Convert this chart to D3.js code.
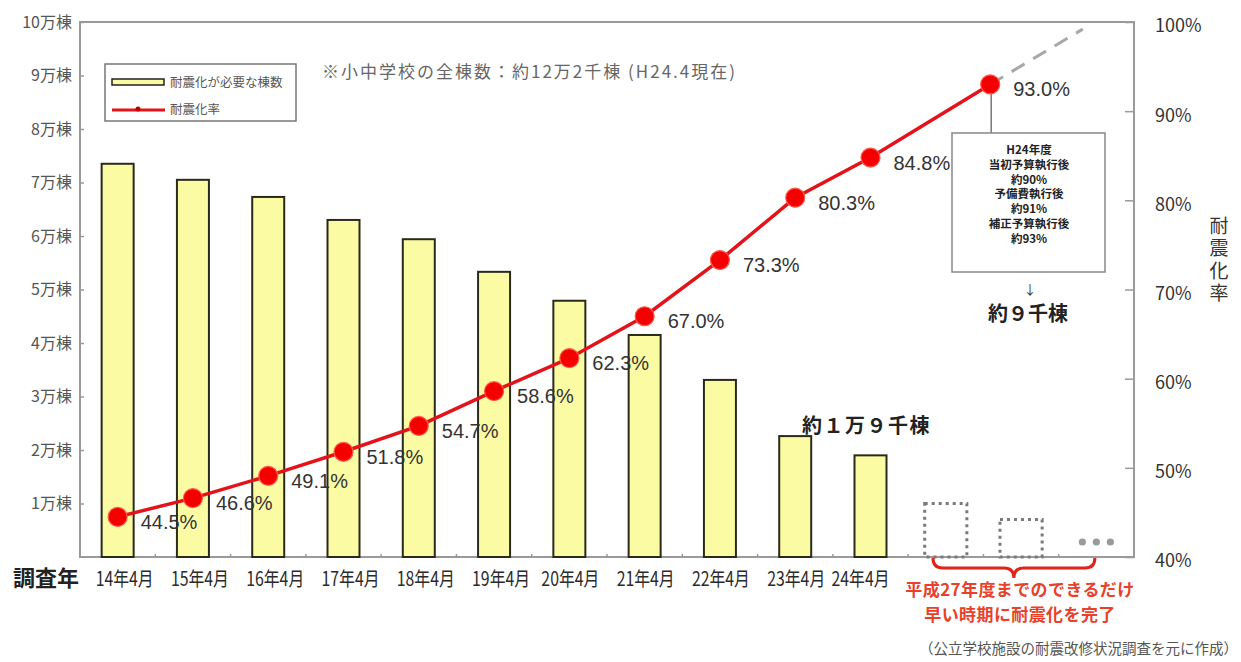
<!DOCTYPE html>
<html lang="ja">
<head>
<meta charset="utf-8">
<script src="https://cdn.jsdelivr.net/npm/d3@7/dist/d3.min.js"></script>
<style>
  html, body { margin: 0; padding: 0; background: #fff; }
  svg { display: block; }
  text { font-family: "Noto Sans CJK JP", "Noto Sans", sans-serif; }
  .num { font-family: "Liberation Sans", Arial, sans-serif; }
</style>
</head>
<body>
<svg id="chart" width="1241" height="662"></svg>
<script>
// Survey points (April of each Heisei year)
const surveyYears = ["14年4月", "15年4月", "16年4月", "17年4月", "18年4月", "19年4月",
                     "20年4月", "21年4月", "22年4月", "23年4月", "24年4月"];
// Buildings still needing seismic retrofit (棟)
const buildingsNeeded = [73500, 70500, 67300, 63000, 59400, 53300, 47900, 41500, 33100, 22600, 19000];
// Seismic retrofit rate (%)
const seismicRate = [44.5, 46.6, 49.1, 51.8, 54.7, 58.6, 62.3, 67.0, 73.3, 80.3, 84.8];
// Future slots drawn as dotted outlines, then the trailing "..." slot
const futureSlots = ["H25", "H26", "H27"];
const futureBuildings = [10000, 7000];
// Rate after FY2012 budget execution, and the dashed projection toward 100%
const budgetRatePos = [11.59];
const budgetRate = [93.0];
const projectionPos = [11.59, 12.82];
const projectionRate = [93.0, 99.2];
// Axis ticks
const countTicks = [10000, 20000, 30000, 40000, 50000, 60000, 70000, 80000, 90000, 100000];
const countTickLabels = ["1万棟", "2万棟", "3万棟", "4万棟", "5万棟", "6万棟", "7万棟", "8万棟", "9万棟", "10万棟"];
const rateTicks = [40, 50, 60, 70, 80, 90, 100];
const budgetNoteLines = ["H24年度", "当初予算執行後", "約90%", "予備費執行後", "約91%", "補正予算執行後", "約93%"];
const bracketNoteLines = ["平成27年度までのできるだけ", "早い時期に耐震化を完了"];

const svg = d3.select("#chart");
const plotLeft = 80, plotRight = 1134, plotTop = 22, plotBottom = 557;

const slots = surveyYears.concat(futureSlots);
const x = d3.scaleBand().domain(slots).range([plotLeft, plotRight]).paddingInner(0.575).paddingOuter(0.2875);
const step = x.step();
// continuous slot position (slot centre = index)
const xPos = d3.scaleLinear().domain([-0.5, slots.length - 0.5]).range([plotLeft, plotRight]);
const yCount = d3.scaleLinear().domain([0, 100000]).range([plotBottom, plotTop]);
const yRate = d3.scaleLinear().domain([40, 100]).range([plotBottom, plotTop]);

// plot frame
svg.append("rect").attr("x", plotLeft).attr("y", plotTop)
  .attr("width", plotRight - plotLeft).attr("height", plotBottom - plotTop)
  .attr("fill", "none").attr("stroke", "#9a9a9a").attr("stroke-width", 2);

// bars
svg.append("g").selectAll("rect").data(buildingsNeeded).join("rect")
  .attr("x", (d, i) => x(surveyYears[i]))
  .attr("y", d => yCount(d))
  .attr("width", x.bandwidth())
  .attr("height", d => yCount(0) - yCount(d))
  .attr("fill", "#fbfba4").attr("stroke", "#2a2a1a").attr("stroke-width", 2);

// dotted future bars
const dotW = step * 0.56;
svg.append("g").selectAll("rect").data(futureBuildings).join("rect")
  .attr("x", (d, i) => xPos(surveyYears.length + i) - dotW / 2)
  .attr("y", d => yCount(d))
  .attr("width", dotW)
  .attr("height", d => yCount(0) - yCount(d))
  .attr("fill", "none").attr("stroke", "#7a7a7a").attr("stroke-width", 3)
  .attr("stroke-dasharray", "3 4");

// trailing "..."
const lastSlot = slots.length - 1;
svg.append("g").selectAll("circle").data([-1, 0, 1]).join("circle")
  .attr("cx", d => xPos(lastSlot) + d * 14)
  .attr("cy", yCount(2800))
  .attr("r", 3.6).attr("fill", "#9a9a9a");

// bottom axis small ticks at slot boundaries
svg.append("g").selectAll("line").data(d3.range(1, slots.length)).join("line")
  .attr("x1", d => xPos(d - 0.5)).attr("x2", d => xPos(d - 0.5))
  .attr("y1", plotBottom).attr("y2", plotBottom - 3)
  .attr("stroke", "#9a9a9a").attr("stroke-width", 1.5);

// left axis
const axL = svg.append("g").attr("transform", `translate(${plotLeft},0)`)
  .call(d3.axisLeft(yCount).tickValues(countTicks).tickSize(-4).tickPadding(8)
    .tickFormat((d, i) => countTickLabels[i]));
axL.select(".domain").remove();
axL.selectAll("line").attr("stroke", "#9a9a9a").attr("stroke-width", 1.5);
axL.selectAll("text").attr("font-size", 16).attr("fill", "#555")
  .attr("font-family", "'Noto Sans CJK JP', sans-serif");

// right axis
const axR = svg.append("g").attr("transform", `translate(${plotRight},0)`)
  .call(d3.axisRight(yRate).tickValues(rateTicks).tickSize(-9).tickPadding(21)
    .tickFormat(d => d + "%"));
axR.select(".domain").remove();
axR.selectAll("line").attr("stroke", "#9a9a9a").attr("stroke-width", 1.5);
axR.selectAll("text").attr("font-size", 18).attr("fill", "#333").attr("dy", "0.55em")
  .attr("font-family", "'Liberation Sans', Arial, sans-serif");

// right axis title, set vertically
svg.append("text")
  .attr("x", 1219).attr("y", 216)
  .attr("font-size", 19).attr("fill", "#333")
  .attr("letter-spacing", 3.5)
  .style("writing-mode", "vertical-rl").style("text-orientation", "upright")
  .text("耐震化率");

// category labels: the earlier ones sit a little right of their bars,
// the last one is pulled left so it clears the red note
const labelNudge = i => (i < 6 ? 7 : i < surveyYears.length - 1 ? 1 : -10);
svg.append("g").selectAll("text").data(surveyYears).join("text")
  .attr("transform", (d, i) => `translate(${x(d) + x.bandwidth() / 2 + labelNudge(i)},586) scale(0.88,1.1)`)
  .attr("text-anchor", "middle").attr("font-size", 18).attr("fill", "#2a2a2a")
  .text(d => d);
svg.append("text").attr("x", 46).attr("y", 586).attr("text-anchor", "middle")
  .attr("font-size", 22).attr("font-weight", "bold").attr("fill", "#222").text("調査年");

// projection dashed line
const lineGen = d3.line().x(d => xPos(d[0])).y(d => yRate(d[1]));
svg.append("path").datum(d3.zip(projectionPos, projectionRate))
  .attr("d", lineGen).attr("fill", "none")
  .attr("stroke", "#a8a8a8").attr("stroke-width", 3).attr("stroke-dasharray", "15 10");

// connector from the FY2012 point to its note box
const bpX = xPos(budgetRatePos[0]);
svg.append("line").attr("x1", bpX + 1).attr("x2", bpX + 1)
  .attr("y1", yRate(budgetRate[0])).attr("y2", 133)
  .attr("stroke", "#777").attr("stroke-width", 1.5);

// rate line
const ratePts = seismicRate.map((v, i) => [i, v]).concat([[budgetRatePos[0], budgetRate[0]]]);
svg.append("path").datum(ratePts).attr("d", lineGen).attr("fill", "none")
  .attr("stroke", "#e3121b").attr("stroke-width", 3.5);
svg.append("g").selectAll("circle").data(ratePts).join("circle")
  .attr("cx", d => xPos(d[0])).attr("cy", d => yRate(d[1]))
  .attr("r", 9.5).attr("fill", "#f40000").attr("stroke", "#ff5a4a").attr("stroke-width", 1.2);

// rate labels
svg.append("g").selectAll("text").data(ratePts).join("text").attr("class", "num")
  .attr("x", d => xPos(d[0]) + 23).attr("y", d => yRate(d[1]) + 12)
  .attr("font-size", 20).attr("fill", "#333")
  .text(d => d[1].toFixed(1) + "%");

// legend
const lg = svg.append("g");
lg.append("rect").attr("x", 105).attr("y", 64).attr("width", 191).attr("height", 57)
  .attr("fill", "#fff").attr("stroke", "#777").attr("stroke-width", 1.5);
lg.append("rect").attr("x", 112).attr("y", 79).attr("width", 52).attr("height", 6)
  .attr("fill", "#fbfba4").attr("stroke", "#222").attr("stroke-width", 1.5);
lg.append("line").attr("x1", 112).attr("x2", 165).attr("y1", 110).attr("y2", 110)
  .attr("stroke", "#e3121b").attr("stroke-width", 3);
lg.append("circle").attr("cx", 138).attr("cy", 109).attr("r", 2.5).attr("fill", "#b00");
lg.append("text").attr("x", 170).attr("y", 87).attr("font-size", 12.5).attr("fill", "#555").text("耐震化が必要な棟数");
lg.append("text").attr("x", 170).attr("y", 114).attr("font-size", 12.5).attr("fill", "#555").text("耐震化率");

// total building count note
svg.append("text").attr("x", 322).attr("y", 78).attr("font-size", 17).attr("fill", "#666")
  .attr("letter-spacing", 2).text("※小中学校の全棟数：約12万2千棟 (H24.4現在)");

// FY2012 note box
const nb = svg.append("g");
nb.append("rect").attr("x", 952).attr("y", 133).attr("width", 153).attr("height", 139)
  .attr("fill", "#fff").attr("stroke", "#888").attr("stroke-width", 1.5);
nb.selectAll("text").data(budgetNoteLines).join("text")
  .attr("x", 1029).attr("y", (d, i) => 154 + i * 14.8).attr("text-anchor", "middle")
  .attr("font-size", 11.5).attr("font-weight", "bold").attr("fill", "#222").text(d => d);
svg.append("text").attr("x", 1030).attr("y", 294).attr("text-anchor", "middle")
  .attr("font-size", 13).attr("fill", "#333").text("↓");
svg.append("text").attr("x", 1028).attr("y", 321).attr("text-anchor", "middle")
  .attr("font-size", 20).attr("font-weight", "bold").attr("fill", "#222").text("約９千棟");

// remaining-building callout
svg.append("text").attr("x", 802).attr("y", 433).attr("font-size", 20).attr("font-weight", "bold")
  .attr("fill", "#222").attr("letter-spacing", 1.5).text("約１万９千棟");

// red brace under the future slots
const bL = xPos(surveyYears.length - 0.17), bR = xPos(lastSlot - 0.02), bM = (bL + bR) / 2;
const bt = plotBottom + 1, bm = plotBottom + 11, bb = plotBottom + 21;
svg.append("path")
  .attr("d", `M${bL},${bt} Q${bL},${bm} ${bL + 10},${bm} L${bM - 10},${bm} Q${bM},${bm} ${bM},${bb} ` +
             `Q${bM},${bm} ${bM + 10},${bm} L${bR - 10},${bm} Q${bR},${bm} ${bR},${bt}`)
  .attr("fill", "none").attr("stroke", "#e2231a").attr("stroke-width", 3);
svg.append("g").selectAll("text").data(bracketNoteLines).join("text")
  .attr("x", 1020).attr("y", (d, i) => 596 + i * 25).attr("text-anchor", "middle")
  .attr("font-size", 17).attr("font-weight", "bold").attr("fill", "#e8402a")
  .attr("letter-spacing", 0.4).text(d => d);

// source
svg.append("text").attr("x", 1238).attr("y", 654).attr("text-anchor", "end")
  .attr("font-size", 14.5).attr("fill", "#555").text("（公立学校施設の耐震改修状況調査を元に作成）");
</script>
</body>
</html>
